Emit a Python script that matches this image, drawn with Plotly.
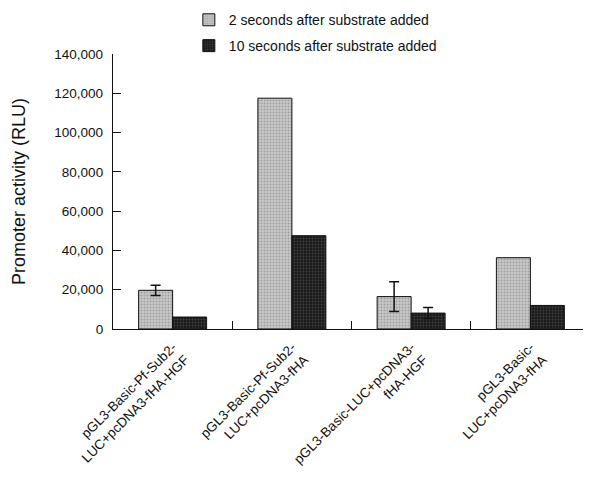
import plotly.graph_objects as go

categories = [
    "pGL3-Basic-Pf-Sub2-<br>LUC+pcDNA3-fHA-HGF",
    "pGL3-Basic-Pf-Sub2-<br>LUC+pcDNA3-fHA",
    "pGL3-Basic-LUC+pcDNA3-<br>fHA-HGF",
    "pGL3-Basic-<br>LUC+pcDNA3-fHA",
]
series_names = ["2 seconds after substrate added", "10 seconds after substrate added"]
values_2s = [19700, 117500, 16500, 36300]
errors_2s = [2600, None, 7600, None]
values_10s = [6100, 47500, 8100, 12000]
errors_10s = [None, None, 2800, None]
y_ticks = [0, 20000, 40000, 60000, 80000, 100000, 120000, 140000]

FONT = "Liberation Sans, Arial, sans-serif"

BAR_W = 0.285
series = [
    (series_names[0], values_2s, errors_2s, -BAR_W,
     dict(color="#b8b8b8", line=dict(color="#111", width=1),
          pattern=dict(shape=".", fgcolor="#777777", bgcolor="#c8c8c8", size=3, solidity=0.35)),
     "legend"),
    (series_names[1], values_10s, errors_10s, 0.0,
     dict(color="#2a2a2a", line=dict(color="#111", width=1),
          pattern=dict(shape=".", fgcolor="#666666", bgcolor="#1a1a1a", size=3, solidity=0.3)),
     "legend2"),
]

fig = go.Figure()
for name, vals, errs, off, marker, leg in series:
    fig.add_trace(go.Bar(
        x=categories, y=vals, name=name, width=BAR_W, offset=off,
        marker=marker, legend=leg,
    ))
    ex = [c for c, e in zip(categories, errs) if e is not None]
    ey = [v for v, e in zip(vals, errs) if e is not None]
    ee = [e for e in errs if e is not None]
    fig.add_trace(go.Bar(
        x=ex, y=ey, width=BAR_W, offset=off, showlegend=False, hoverinfo="skip",
        marker=dict(color="rgba(0,0,0,0)", line=dict(width=0)),
        error_y=dict(type="data", array=ee, visible=True, color="#111", thickness=1.5, width=5),
    ))

fig.update_layout(
    width=583, height=484,
    margin=dict(l=105, r=1, t=46, b=163, autoexpand=False),
    paper_bgcolor="white", plot_bgcolor="white",
    barmode="overlay",
    font=dict(family=FONT, size=14, color="#111"),
    showlegend=True,
    legend=dict(x=0.159, y=1.123, xanchor="left", yanchor="middle",
                bgcolor="rgba(0,0,0,0)", font=dict(size=14)),
    legend2=dict(x=0.159, y=1.029, xanchor="left", yanchor="middle",
                 bgcolor="rgba(0,0,0,0)", font=dict(size=14)),
    xaxis=dict(
        showline=True, linecolor="#111", linewidth=1.3,
        ticks="inside", ticklen=8, tickcolor="#111", tickwidth=1.3,
        tickson="boundaries", tickangle=-45, ticklabelstandoff=4,
        tickfont=dict(size=13.5), showgrid=False,
    ),
    yaxis=dict(
        range=[0, 140000], tickvals=y_ticks, tickformat=",",
        showline=True, linecolor="#111", linewidth=1.3,
        ticks="inside", ticklen=8, tickcolor="#111", tickwidth=1.3,
        tickfont=dict(size=13.5), showgrid=False, zeroline=False,
        ticklabelstandoff=6,
        title=dict(text="Promoter activity (RLU)", font=dict(size=18), standoff=24),
    ),
)

fig.write_html("out.html")
